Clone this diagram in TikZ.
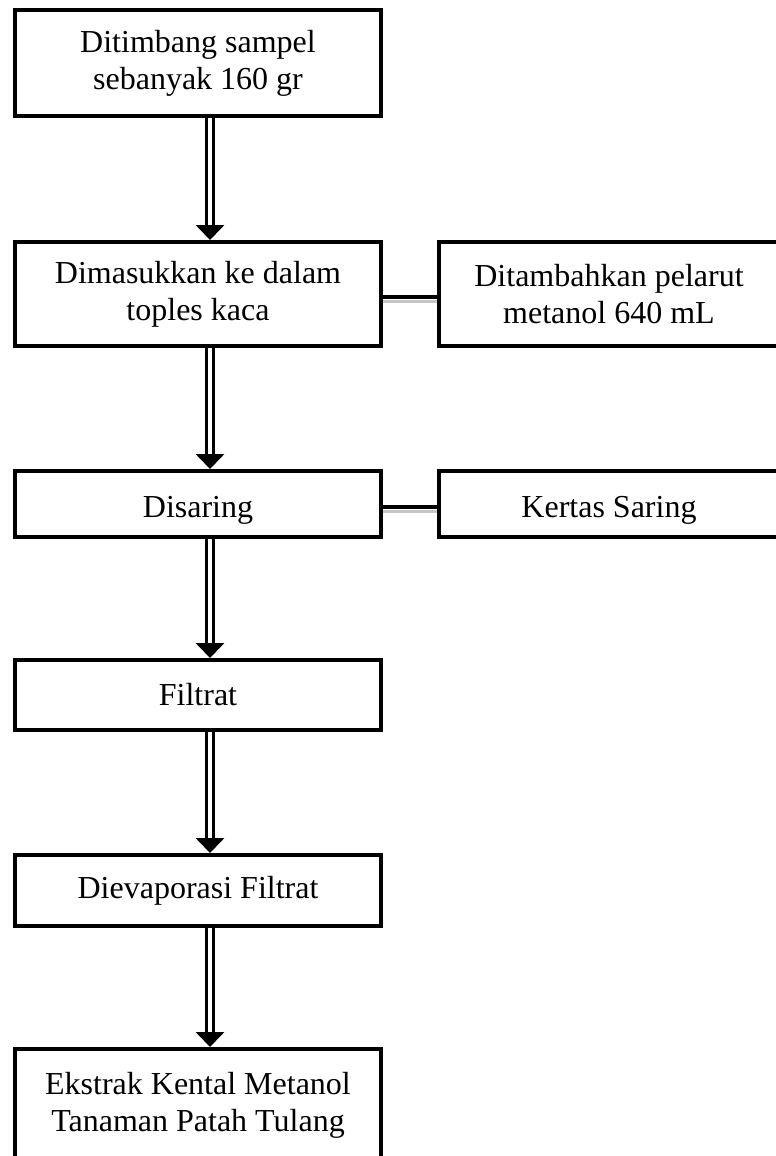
\documentclass[tikz,border=0pt]{standalone}
\usepackage{fontspec}
\setmainfont{Liberation Serif}
\usetikzlibrary{arrows.meta}

\begin{document}
\begin{tikzpicture}[x=1pt, y=-1pt,
    proc/.style={draw, rectangle, line width=4pt, minimum width=366pt, align=center, font=\fontsize{32}{37}\selectfont},
    side/.style={draw, rectangle, line width=4pt, minimum width=340pt, align=center, font=\fontsize{32}{37}\selectfont},
    arrow/.style={double, line width=3.5pt, double distance=3.5pt, -{Triangle[width=28pt, length=15pt]}},
    link/.style={line width=4pt, preaction={draw=gray!45, line width=3pt, transform canvas={yshift=-4pt}}}
]
    \useasboundingbox (0,0) rectangle (776,1156);

    \node[proc, minimum height=106pt] (timbang) at (198,63) {Ditimbang sampel\\sebanyak 160 gr};
    \node[proc, minimum height=104pt] (toples) at (198,294) {Dimasukkan ke dalam\\toples kaca};
    \node[side, minimum height=104pt] (pelarut) at (609,294) {Ditambahkan pelarut\\metanol 640 mL};
    \node[proc, minimum height=66pt, text height=34pt] (saring) at (198,504) {Disaring};
    \node[side, minimum height=66pt, text height=34pt] (kertas) at (609,504) {Kertas Saring};
    \node[proc, minimum height=70pt] (filtrat) at (198,695) {Filtrat};
    \node[proc, minimum height=71pt] (evap) at (198,890.5) {Dievaporasi Filtrat};
    \node[proc, minimum height=112pt] (ekstrak) at (198,1105) {Ekstrak Kental Metanol\\Tanaman Patah Tulang};

    \draw[arrow] ([xshift=12pt]timbang.south) -- ([xshift=12pt]toples.north);
    \draw[arrow] ([xshift=12pt]toples.south) -- ([xshift=12pt]saring.north);
    \draw[arrow] ([xshift=12pt]saring.south) -- ([xshift=12pt]filtrat.north);
    \draw[arrow] ([xshift=12pt]filtrat.south) -- ([xshift=12pt]evap.north);
    \draw[arrow] ([xshift=12pt]evap.south) -- ([xshift=12pt]ekstrak.north);

    \draw[link] ([yshift=-3pt]toples.east) -- ([yshift=-3pt]pelarut.west);
    \draw[link] ([yshift=-3pt]saring.east) -- ([yshift=-3pt]kertas.west);
\end{tikzpicture}
\end{document}
